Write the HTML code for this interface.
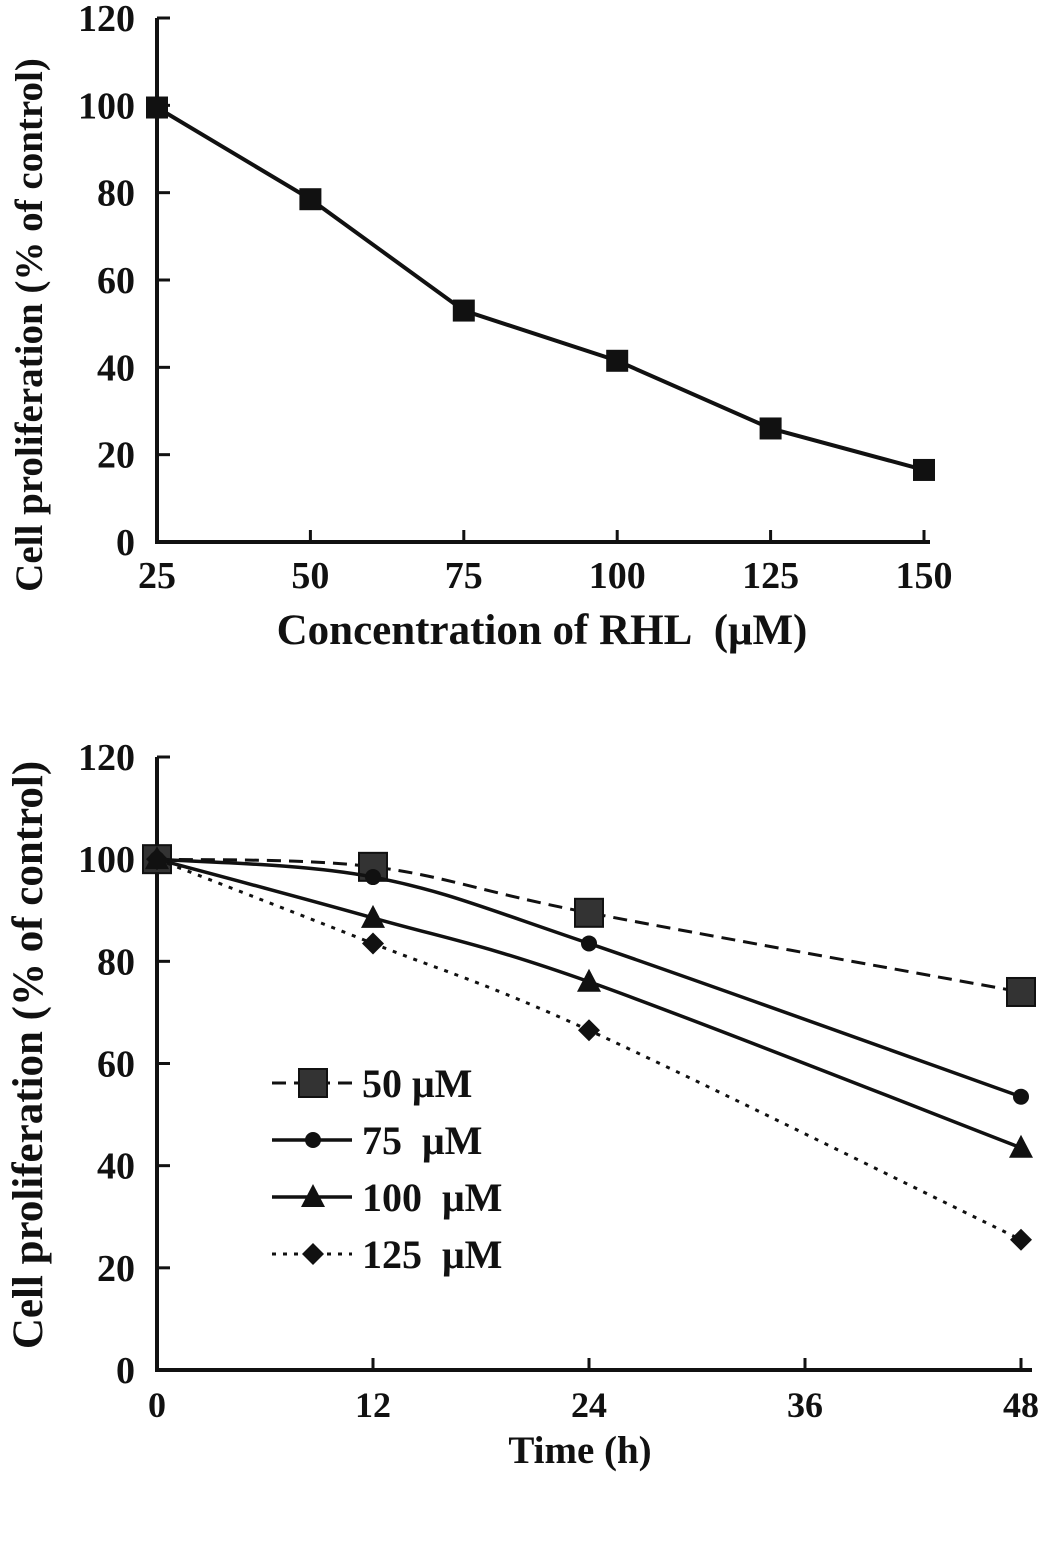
<!DOCTYPE html>
<html><head><meta charset="utf-8"><style>
body{margin:0;background:#fff}
svg text{font-family:"Liberation Serif",serif;font-weight:bold;fill:#111}
</style></head><body>
<svg id="s" width="1063" height="1552">
<g id="top"></g>
<g id="bot"></g>
</svg>
<script>
const topCats=[25,50,75,100,125,150];
const topVals=[99.5,78.5,53,41.5,26,16.5];
const topYTicks=[0,20,40,60,80,100,120];
const botCats=[0,12,24,48];
const botXTicks=[0,12,24,36,48];
const botYTicks=[0,20,40,60,80,100,120];
const s50=[100,98.5,89.5,74];
const s75=[100,96.5,83.5,53.5];
const s100=[100,88.5,76,43.5];
const s125=[100,83.5,66.5,25.5];
const seriesNames=['50 μM','75  μM','100  μM','125  μM'];
const NS='http://www.w3.org/2000/svg';
function mk(p,t,a){const e=document.createElementNS(NS,t);for(const k in a)e.setAttribute(k,a[k]);p.appendChild(e);return e;}
const T=document.getElementById('top');
const tx=v=>157+(v-25)*(924-157)/125, ty=v=>542-v*(542-18)/120;
let e=mk(T,'path',{d:`M157 18V542H930`,stroke:'#111','stroke-width':4,fill:'none'});

topYTicks.forEach(v=>{mk(T,'line',{x1:157,x2:170,y1:ty(v),y2:ty(v),stroke:'#111','stroke-width':3});
 e=mk(T,'text',{x:135,y:ty(v)+13,'text-anchor':'end','font-size':38});e.textContent=v;
 });
topCats.forEach(v=>{mk(T,'line',{x1:tx(v),x2:tx(v),y1:542,y2:530,stroke:'#111','stroke-width':3});
 e=mk(T,'text',{x:tx(v),y:588,'text-anchor':'middle','font-size':38});e.textContent=v;
 });
e=mk(T,'text',{x:542,y:644,'text-anchor':'middle','font-size':43});e.textContent='Concentration of RHL\u00a0\u00a0(μM)';

e=mk(T,'text',{x:0,y:0,'text-anchor':'middle','font-size':39,transform:'translate(42,325) rotate(-90)'});e.textContent='Cell proliferation (% of control)';

e=mk(T,'polyline',{points:topCats.map((c,i)=>tx(c)+','+ty(topVals[i])).join(' '),fill:'none',stroke:'#111','stroke-width':4});

topCats.forEach((c,i)=>{e=mk(T,'rect',{x:tx(c)-11,y:ty(topVals[i])-11,width:22,height:22,fill:'#111'});
 });
const B=document.getElementById('bot');
const bx=v=>157+v*(1021-157)/48, by=v=>1370-v*(1370-757)/120;
e=mk(B,'path',{d:`M157 757V1370H1032`,stroke:'#111','stroke-width':4,fill:'none'});

botYTicks.forEach(v=>{mk(B,'line',{x1:157,x2:170,y1:by(v),y2:by(v),stroke:'#111','stroke-width':3});
 e=mk(B,'text',{x:135,y:by(v)+13,'text-anchor':'end','font-size':38});e.textContent=v;
 });
botXTicks.forEach(v=>{mk(B,'line',{x1:bx(v),x2:bx(v),y1:1370,y2:1358,stroke:'#111','stroke-width':3});
 e=mk(B,'text',{x:bx(v),y:1417,'text-anchor':'middle','font-size':36});e.textContent=v;
 });
e=mk(B,'text',{x:580,y:1463,'text-anchor':'middle','font-size':39});e.textContent='Time (h)';

e=mk(B,'text',{x:0,y:0,'text-anchor':'middle','font-size':43,transform:'translate(42,1055) rotate(-90)'});e.textContent='Cell proliferation (% of control)';

function smooth(pts){let d=`M${pts[0][0]} ${pts[0][1]}`;for(let i=0;i<pts.length-1;i++){const p0=pts[i-1]||pts[i],p1=pts[i],p2=pts[i+1],p3=pts[i+2]||p2;
 d+=` C${p1[0]+(p2[0]-p0[0])/6} ${p1[1]+(p2[1]-p0[1])/6} ${p2[0]-(p3[0]-p1[0])/6} ${p2[1]-(p3[1]-p1[1])/6} ${p2[0]} ${p2[1]}`;}return d;}
function marker(g,type,x,y){
 if(type==='sq')return mk(g,'rect',{x:x-14,y:y-14,width:28,height:28,fill:'#333',stroke:'#111','stroke-width':2});
 if(type==='ci')return mk(g,'circle',{cx:x,cy:y,r:8,fill:'#111'});
 if(type==='tr')return mk(g,'polygon',{points:`${x},${y-13} ${x-12},${y+10} ${x+12},${y+10}`,fill:'#111'});
 return mk(g,'polygon',{points:`${x},${y-11} ${x+11},${y} ${x},${y+11} ${x-11},${y}`,fill:'#111'});}
const series=[[s50,'sq','14 8',3],[s75,'ci','',3.5],[s100,'tr','',3.5],[s125,'di','4 7',3]];
series.forEach(([vals,m,dash,w],k)=>{
 e=mk(B,'path',{d:smooth(botCats.map((c,i)=>[bx(c),by(vals[i])])),fill:'none',stroke:'#111','stroke-width':w,'stroke-dasharray':dash});
 
 botCats.forEach((c,i)=>{e=marker(B,m,bx(c),by(vals[i]));
  });
 const ly=1083+k*57;
 e=mk(B,'line',{x1:272,x2:352,y1:ly,y2:ly,stroke:'#111','stroke-width':w,'stroke-dasharray':dash});
 
 e=marker(B,m,313,ly);
 e=mk(B,'text',{x:362,y:ly+14,'font-size':40});e.textContent=seriesNames[k].replace('  ','\u00a0\u00a0');
 
});
</script>
</body></html>
